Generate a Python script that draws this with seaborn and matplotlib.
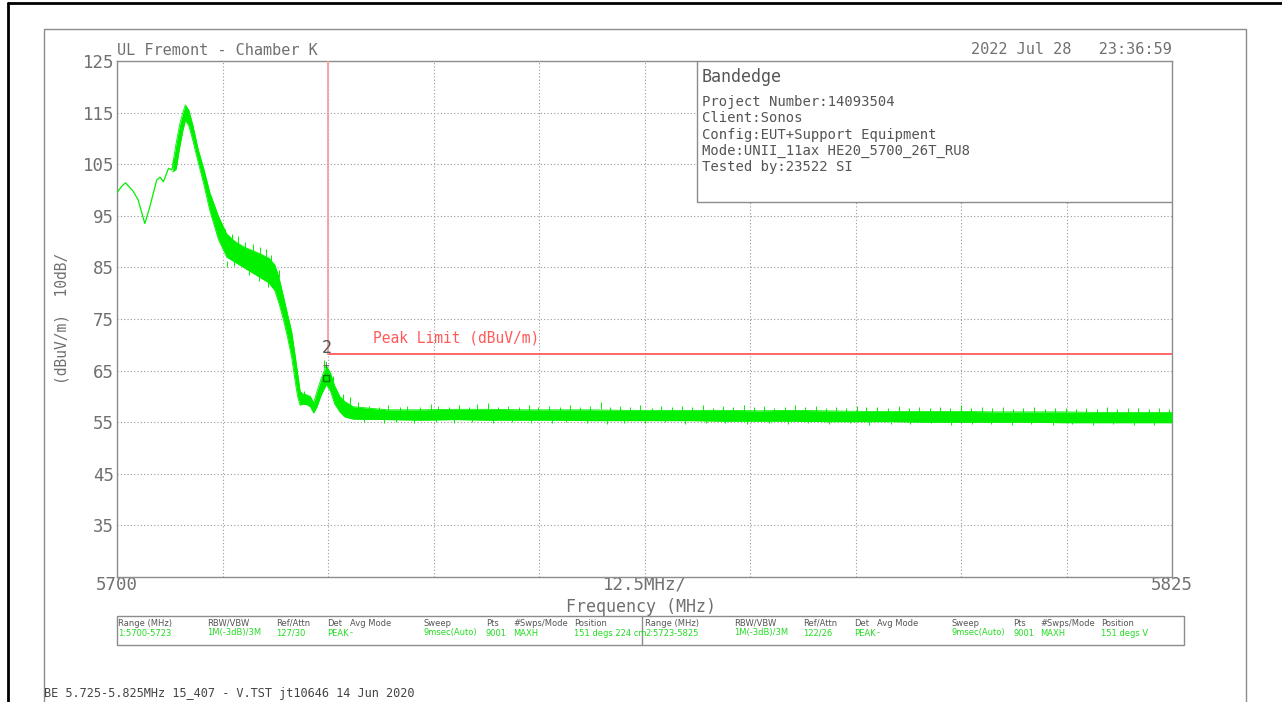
import pandas as pd
import matplotlib.pyplot as plt
import seaborn as sns
from matplotlib.lines import Line2D
from matplotlib.patches import Rectangle

sns.set_theme(style="white")
plt.rcParams['font.family'] = ['DejaVu Sans Mono', 'DejaVu Sans']

# --- Data ---
# start of sweep (thin trace)
freq_thin = [5700.0, 5700.5, 5701.0, 5701.9, 5702.5, 5703.3, 5703.9, 5704.7,
             5705.1, 5705.5, 5706.1, 5706.5, 5706.8]
level_thin = [99.5, 100.6, 101.4, 99.8, 98.1, 93.5, 96.8, 101.9,
              102.5, 101.6, 104.2, 103.9, 106.0]

# noisy max-hold band: lower / upper edge of the dense part
freq_band = [5706.6, 5707.0, 5707.4, 5707.8, 5708.1, 5708.5, 5709.0, 5709.6,
             5710.3, 5711.0, 5712.0, 5713.0, 5714.0, 5715.0, 5716.0, 5717.0,
             5718.0, 5718.7, 5719.2, 5719.7, 5720.2, 5720.7, 5721.1, 5721.4,
             5721.7, 5722.0, 5722.5, 5722.9, 5723.3, 5723.7, 5724.2, 5724.8,
             5725.3, 5725.8, 5726.4, 5727.0,
             5728, 5732, 5736, 5740, 5744, 5748, 5752, 5756, 5760, 5764,
             5768, 5772, 5776, 5780, 5784, 5788, 5792, 5796, 5800, 5804,
             5808, 5812, 5816, 5820, 5825]
band_low = [103.5, 104.0, 108.0, 111.5, 113.5, 112.5, 109.5, 105.5,
            101.0, 96.0, 90.5, 87.0, 86.0, 85.0, 84.0, 83.0,
            82.0, 80.5, 78.0, 75.0, 71.5, 67.5, 63.0, 60.0,
            58.3, 58.5, 58.4, 58.0, 56.8, 58.0, 60.3, 62.3,
            61.0, 58.5, 57.0, 56.0,
            55.6, 55.5, 55.4, 55.5, 55.4, 55.4, 55.4, 55.3, 55.3, 55.3,
            55.3, 55.2, 55.2, 55.2, 55.1, 55.1, 55.1, 55.0, 55.0, 55.0,
            55.0, 54.9, 54.9, 54.9, 54.9]
band_high = [105.0, 109.0, 112.5, 115.0, 116.5, 115.5, 112.5, 108.0,
             104.0, 99.5, 95.0, 91.5, 90.0, 89.0, 88.3, 87.6,
             86.8, 85.5, 83.0, 79.5, 76.0, 72.5, 68.0, 64.5,
             61.0, 60.5, 60.3, 60.0, 58.8, 61.0, 63.5, 66.0,
             64.5, 62.0, 60.0, 59.0,
             58.0, 57.4, 57.4, 57.5, 57.5, 57.4, 57.4, 57.4, 57.3, 57.3,
             57.3, 57.3, 57.2, 57.3, 57.2, 57.1, 57.1, 57.1, 57.1, 57.0,
             57.0, 57.0, 56.9, 56.9, 56.9]

# upward noise spikes (position, top) and downward dips (position, bottom)
spike_freq = [5712.8, 5713.6, 5714.3, 5715.2, 5716.1, 5716.9, 5717.6, 5718.3,
              5719.2, 5722.2, 5724.5, 5725.6, 5726.8, 5727.6,
              5728.6, 5729.8, 5731.0, 5732.1, 5733.5, 5734.4, 5735.9, 5737.2,
              5738.0, 5739.3, 5740.5, 5741.7, 5742.6, 5744.0, 5745.1, 5746.3,
              5747.6, 5748.8, 5749.9, 5751.2, 5752.5, 5753.7, 5754.8, 5756.0,
              5757.3, 5758.4, 5759.6, 5760.8, 5762.0, 5763.4, 5764.5, 5765.8,
              5766.9, 5768.1, 5769.4, 5770.6, 5771.8, 5773.0, 5774.3, 5775.5,
              5776.7, 5777.8, 5779.1, 5780.3, 5781.5, 5782.8, 5784.0, 5785.2,
              5786.4, 5787.7, 5788.8, 5790.1, 5791.3, 5792.6, 5793.8, 5795.0,
              5796.3, 5797.5, 5798.7, 5800.0, 5801.2, 5802.5, 5803.7, 5805.0,
              5806.2, 5807.4, 5808.6, 5809.9, 5811.1, 5812.4, 5813.6, 5814.8,
              5816.1, 5817.3, 5818.5, 5819.8, 5821.0, 5822.3, 5823.5, 5824.7]
spike_top = [92.5, 91.5, 91.0, 90.0, 89.5, 89.0, 88.5, 87.5,
             84.5, 61.0, 67.0, 64.0, 60.5, 59.8,
             59.0, 58.2, 58.0, 58.4, 57.9, 58.1, 58.0, 58.6,
             58.1, 57.9, 58.3, 58.0, 58.5, 58.7, 58.0, 58.2,
             57.9, 58.3, 58.0, 58.2, 57.9, 58.4, 58.0, 58.1,
             58.9, 58.0, 58.2, 57.9, 58.3, 57.8, 58.2, 57.9,
             58.1, 58.0, 58.3, 57.8, 58.1, 58.0, 58.4, 57.9,
             58.2, 57.8, 58.0, 58.4, 57.9, 58.1, 57.8, 58.0,
             57.8, 58.2, 57.9, 58.0, 57.7, 58.1, 57.8, 58.0,
             57.7, 57.9, 57.8, 58.3, 57.8, 57.9, 57.7, 58.0,
             57.6, 57.8, 57.9, 57.6, 57.8, 57.7, 57.5, 57.8,
             57.6, 57.9, 57.5, 57.7, 57.8, 57.5, 57.7, 57.6]
dip_freq = [5713.0, 5713.9, 5715.6, 5716.8, 5717.9,
            5729.3, 5731.6, 5733.0, 5735.2, 5737.8, 5739.9, 5742.1, 5744.6,
            5746.8, 5749.0, 5751.5, 5753.2, 5755.7, 5758.0, 5760.1, 5762.6,
            5764.9, 5767.3, 5769.8, 5772.0, 5774.6, 5777.2, 5779.5, 5781.9,
            5784.4, 5786.8, 5789.1, 5791.7, 5794.0, 5796.5, 5798.8, 5801.3,
            5803.6, 5806.0, 5808.3, 5810.9, 5813.2, 5815.6, 5818.0, 5820.5,
            5822.9]
dip_bottom = [85.0, 85.2, 83.6, 82.3, 81.2,
              55.0, 54.9, 55.1, 54.8, 55.0, 54.9, 55.1, 54.8,
              55.0, 54.9, 54.8, 55.0, 54.9, 54.7, 54.9, 54.8,
              55.0, 54.7, 54.9, 54.8, 54.6, 54.9, 54.7, 54.8,
              54.6, 54.8, 54.5, 54.7, 54.6, 54.8, 54.5, 54.7,
              54.6, 54.4, 54.6, 54.5, 54.6, 54.4, 54.6, 54.5,
              54.4]

limit_freq = [5725, 5825]
limit_level = [68.2, 68.2]
marker_freq = 5724.8
marker_level = 63.6

y_ticks = [35, 45, 55, 65, 75, 85, 95, 105, 115, 125]
x_grid = [5712.5, 5725, 5737.5, 5750, 5762.5, 5775, 5787.5, 5800, 5812.5]

info_lines = ["Project Number:14093504", "Client:Sonos",
              "Config:EUT+Support Equipment",
              "Mode:UNII_11ax HE20_5700_26T_RU8", "Tested by:23522 SI"]

table_head = ["Range (MHz)", "RBW/VBW", "Ref/Attn", "Det", "Avg Mode",
              "Sweep", "Pts", "#Swps/Mode", "Position"]
table_row1 = ["1:5700-5723", "1M(-3dB)/3M", "127/30", "PEAK", "-",
              "9msec(Auto)", "9001", "MAXH", "151 degs 224 cm"]
table_row2 = ["2:5723-5825", "1M(-3dB)/3M", "122/26", "PEAK", "-",
              "9msec(Auto)", "9001", "MAXH", "151 degs V"]

W, H = 1282, 702
def px(x, y):
    return x / W, 1 - y / H

GRAY = '#707070'
GREEN = '#00f000'

fig = plt.figure(figsize=(12.82, 7.02), dpi=100)
ax = fig.add_axes([117 / W, 1 - 577 / H, 1055 / W, 516 / H])

# --- trace ---
thin = pd.DataFrame({'f': freq_thin, 'v': level_thin})
sns.lineplot(data=thin, x='f', y='v', color=GREEN, lw=0.9, ax=ax, zorder=3)
ax.fill_between(freq_band, band_low, band_high, color=GREEN, lw=0, zorder=3)
band = pd.DataFrame({'f': freq_band + freq_band,
                     'v': band_low + band_high,
                     'edge': ['lo'] * len(freq_band) + ['hi'] * len(freq_band)})
sns.lineplot(data=band, x='f', y='v', units='edge', estimator=None,
             color=GREEN, lw=0.6, ax=ax, zorder=3)
ax.vlines(spike_freq, [t - 1.4 for t in spike_top], spike_top,
          color=GREEN, lw=0.7, zorder=3)
ax.vlines(dip_freq, dip_bottom, [b + 1.2 for b in dip_bottom],
          color=GREEN, lw=0.7, zorder=3)

# --- limit line ---
sns.lineplot(x=limit_freq, y=limit_level, color='#ff5a5a', lw=1.3, ax=ax, zorder=4)
ax.vlines(limit_freq[0], limit_level[0], y_ticks[-1], color='#f4a0a0', lw=1.3, zorder=4)
ax.text(5730.3, limit_level[0] + 1.6, "Peak Limit (dBuV/m)", color='#ff5a5a',
        fontsize=10.5, va='bottom')

# --- marker 2 ---
ax.plot([marker_freq], [marker_level], marker='s', ms=5, mfc='none',
        mec='#0a7a0a', mew=1, zorder=5)
ax.text(marker_freq, marker_level + 5.8, "2", color='#555555', fontsize=12,
        ha='center', va='center', zorder=5)
ax.text(marker_freq, marker_level + 2.4, "+", color='#555555', fontsize=8,
        ha='center', va='center', zorder=5)

# --- axes styling ---
ax.set_xlim(5700, 5825)
ax.set_ylim(25, 125)
ax.set_yticks(y_ticks)
ax.set_yticklabels([str(t) for t in y_ticks])
ax.set_xticks([5700, 5762.5, 5825])
ax.set_xticklabels(["5700", "12.5MHz/", "5825"])
ax.tick_params(axis='both', length=0, colors=GRAY, labelsize=12.5, pad=2)
ax.tick_params(axis='x', pad=-1)
ax.set_xlabel("")
ax.set_ylabel("")
for s in ax.spines.values():
    s.set_color('#8c8c8c')
    s.set_linewidth(1)
for yv in y_ticks[:-1]:
    ax.axhline(yv, color='#999999', lw=0.8, ls=(0, (1, 2)), zorder=1)
for xv in x_grid:
    ax.axvline(xv, color='#999999', lw=0.8, ls=(0, (1, 2)), zorder=1)

# info box
ax.add_patch(Rectangle((0.5498, 0.7267), 0.4502, 0.2733, transform=ax.transAxes,
                       facecolor='white', edgecolor='#8c8c8c', lw=1, zorder=6))
ax.text(0.5545, 0.969, "Bandedge", transform=ax.transAxes, color='#555555',
        fontsize=12, va='center', zorder=7)
for line, yy in zip(info_lines, [0.9205, 0.8895, 0.8566, 0.8256, 0.7946]):
    ax.text(0.5545, yy, line, transform=ax.transAxes, color='#555555',
            fontsize=10, va='center', zorder=7)

ax.text(0.0, 1.021, "UL Fremont - Chamber K", transform=ax.transAxes,
        color=GRAY, fontsize=11, va='center', ha='left')
ax.text(1.0, 1.023, "2022 Jul 28   23:36:59", transform=ax.transAxes,
        color=GRAY, fontsize=11, va='center', ha='right')

# --- figure level text ---
fig.text(*px(62, 318), "(dBuV/m)  10dB/", rotation=90, color=GRAY,
         fontsize=10.5, ha='center', va='center')
fig.text(*px(641, 607), "Frequency (MHz)", color=GRAY, fontsize=12,
         ha='center', va='center')
fig.text(*px(44, 693), "BE 5.725-5.825MHz 15_407 - V.TST jt10646 14 Jun 2020",
         color='#444444', fontsize=8.6, ha='left', va='center')

# bottom settings table
x0, x1, xm = 117, 1184, 642
fig.add_artist(Rectangle(px(x0, 645), (x1 - x0) / W, 29 / H,
                         transform=fig.transFigure, fill=False,
                         edgecolor='#8c8c8c', lw=1))
fig.add_artist(Line2D([xm / W, xm / W], [1 - 616 / H, 1 - 645 / H],
                      transform=fig.transFigure, color='#8c8c8c', lw=1))
col_x = [118, 207, 276, 327, 350, 424, 486, 513, 574]
for off, row in [(0, table_row1), (527, table_row2)]:
    for cx, head, val in zip(col_x, table_head, row):
        fig.text(*px(cx + off, 623), head, color='#555555', fontsize=6,
                 family='DejaVu Sans', ha='left', va='center')
        fig.text(*px(cx + off, 633), val, color='#22dd22', fontsize=6,
                 family='DejaVu Sans', ha='left', va='center')

# outer frames
fig.add_artist(Line2D([8 / W, 1], [1 - 3 / H, 1 - 3 / H],
                      transform=fig.transFigure, color='black', lw=2))
fig.add_artist(Line2D([8 / W, 8 / W], [0, 1 - 3 / H],
                      transform=fig.transFigure, color='black', lw=2))
fig.add_artist(Line2D([44 / W, 44 / W, 1246 / W, 1246 / W],
                      [0, 1 - 29 / H, 1 - 29 / H, 0],
                      transform=fig.transFigure, color='#8c8c8c', lw=1))

fig.savefig("out.png", dpi=100, facecolor='white')
